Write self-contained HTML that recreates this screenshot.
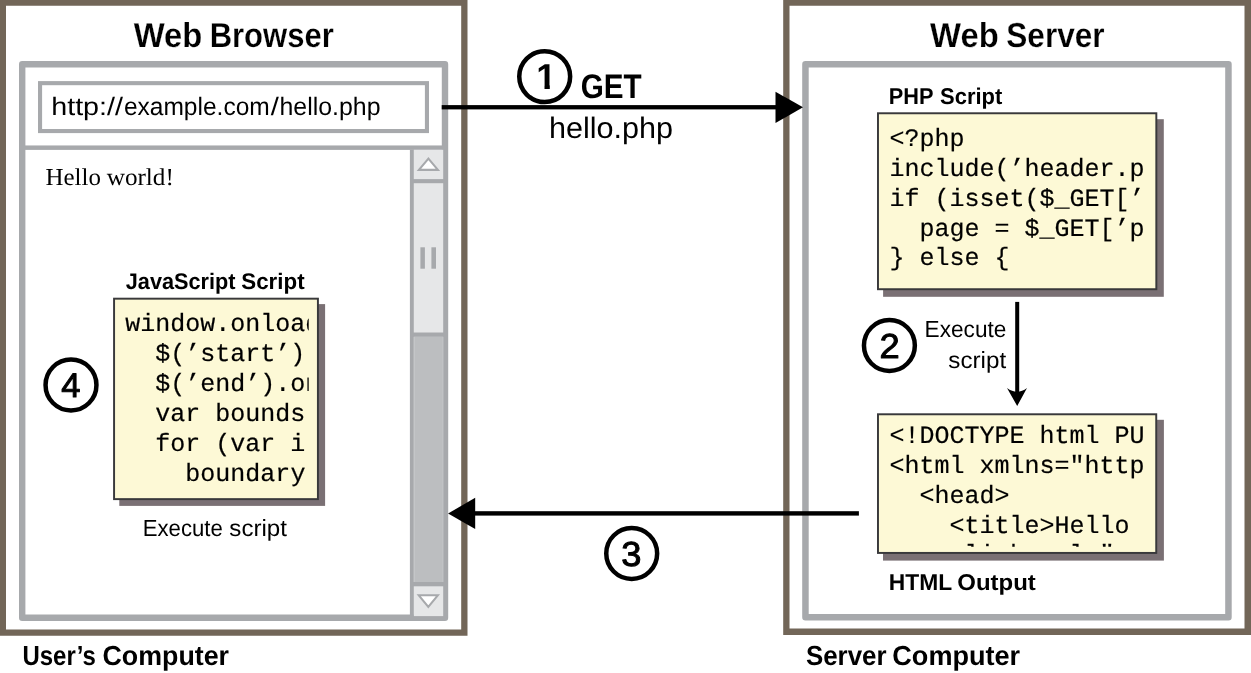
<!DOCTYPE html>
<html lang="en"><head><meta charset="utf-8"><title>Web Browser and Web Server</title>
<style>html,body{margin:0;padding:0;background:#fff;overflow:hidden}svg{display:block;will-change:transform}</style></head>
<body>
<svg width="1251" height="673" viewBox="0 0 1251 673">
<defs>
<clipPath id="c1"><rect x="120" y="300" width="188.7" height="196"/></clipPath>
<clipPath id="c2"><rect x="880" y="115" width="265.2" height="172"/></clipPath>
<clipPath id="c3"><rect x="880" y="416" width="265.2" height="130.7"/></clipPath>
<clipPath id="c4"><path d="M530 55H560V85H549.8V95H544.5V85H530Z"/></clipPath>
<filter id="ga" x="0" y="0" width="1251" height="673" filterUnits="userSpaceOnUse" color-interpolation-filters="sRGB"><feOffset dx="0" dy="0"/></filter>
</defs>
<rect x="0" y="0" width="1251.00" height="673.00" fill="#fff" />
<path fill="#726658" fill-rule="evenodd" d="M0 0H467.5V635.7H0Z M6.0 5.8H461.2V629.5H6.0Z"/>
<path fill="#726658" fill-rule="evenodd" d="M783.2 0H1251V634.9H783.2Z M789.5 5.8H1244.5V628.5H789.5Z"/>
<rect x="22.20" y="64.20" width="422.80" height="553.50" fill="#fff" stroke="#a7a9ac" stroke-width="6.4" stroke-linejoin="round"/>
<rect x="805.45" y="64.25" width="423.00" height="552.90" fill="#fff" stroke="#a7a9ac" stroke-width="6.5" stroke-linejoin="round"/>
<rect x="25" y="145.45" width="418.00" height="4.45" fill="#a7a9ac" />
<rect x="40.05" y="83.15" width="386.90" height="47.90" fill="#fff" stroke="#a7a9ac" stroke-width="4.1" stroke-linejoin="miter"/>
<rect x="409.9" y="149.8" width="4.00" height="466.20" fill="#a7a9ac" />
<rect x="413.9" y="149.8" width="29.30" height="466.30" fill="#e6e7e8" />
<rect x="414.2" y="336.9" width="28.70" height="245.10" fill="#bcbec0" />
<rect x="412" y="179.1" width="32.00" height="4.10" fill="#a7a9ac" />
<rect x="412" y="332.5" width="32.00" height="4.30" fill="#a7a9ac" />
<rect x="412" y="582.0" width="32.00" height="4.30" fill="#a7a9ac" />
<rect x="420.4" y="247.3" width="4.50" height="21.40" fill="#a7a9ac" />
<rect x="431.4" y="247.3" width="4.60" height="21.40" fill="#a7a9ac" />
<path d="M428.4 158.6L418.9 169.9H437.9Z" fill="#fff" stroke="#a7a9ac" stroke-width="2.1" stroke-linejoin="miter"/>
<path d="M428.3 606.8L418.8 595.3H437.8Z" fill="#fff" stroke="#a7a9ac" stroke-width="2.1" stroke-linejoin="miter"/>
<rect x="119.3" y="304.1" width="205.80" height="201.80" fill="#7a7074" />
<rect x="114.07" y="298.68" width="203.85" height="200.45" fill="#fdf9d6" stroke="#39393b" stroke-width="1.95" stroke-linejoin="miter"/>
<rect x="883.1" y="119.2" width="280.70" height="177.60" fill="#7a7074" />
<rect x="877.98" y="113.27" width="278.35" height="175.95" fill="#fdf9d6" stroke="#39393b" stroke-width="1.95" stroke-linejoin="miter"/>
<rect x="883.0" y="419.8" width="280.90" height="140.80" fill="#7a7074" />
<rect x="877.98" y="414.28" width="278.25" height="138.65" fill="#fdf9d6" stroke="#39393b" stroke-width="1.95" stroke-linejoin="miter"/>
<g filter="url(#ga)" text-rendering="geometricPrecision">
<g clip-path="url(#c1)" font-family="Liberation Mono, monospace" font-size="25" fill="#000" stroke="#000" stroke-width="0.2">
<text x="125.35" y="331" style="white-space:pre">window.onload</text>
<text x="155.35" y="361" style="white-space:pre">$(’start’)</text>
<text x="155.35" y="391" style="white-space:pre">$(’end’).on</text>
<text x="155.35" y="421" style="white-space:pre">var bounds</text>
<text x="155.35" y="451" style="white-space:pre">for (var i</text>
<text x="185.36" y="481" style="white-space:pre">boundary</text>
</g>
<g clip-path="url(#c2)" font-family="Liberation Mono, monospace" font-size="25" fill="#000" stroke="#000" stroke-width="0.2">
<text x="889.50" y="146" style="white-space:pre">&lt;?php</text>
<text x="889.50" y="176" style="white-space:pre">include(’header.p</text>
<text x="889.50" y="206" style="white-space:pre">if (isset($_GET[’</text>
<text x="919.50" y="236" style="white-space:pre">page = $_GET[’p</text>
<text x="889.50" y="265" style="white-space:pre">} else {</text>
</g>
<g clip-path="url(#c3)" font-family="Liberation Mono, monospace" font-size="25" fill="#000" stroke="#000" stroke-width="0.2">
<text x="889.50" y="443" style="white-space:pre">&lt;!DOCTYPE html PU</text>
<text x="889.50" y="473" style="white-space:pre">&lt;html xmlns=&quot;http</text>
<text x="919.50" y="503" style="white-space:pre">&lt;head&gt;</text>
<text x="949.51" y="533" style="white-space:pre">&lt;title&gt;Hello</text>
<text x="949.51" y="562" style="white-space:pre">&lt;link rel=&quot;</text>
</g>
<rect x="441.7" y="105.1" width="335.30" height="4.30" fill="#000" />
<path d="M775.5 91.7L803 107.3L775.5 123Z" fill="#000"/>
<rect x="474" y="511.2" width="384.90" height="4.40" fill="#000" />
<path d="M475.2 497.8L448.1 513.4L475.2 529.1Z" fill="#000"/>
<rect x="1015.2" y="301.9" width="4.00" height="91.10" fill="#000" />
<path d="M1017.2 406L1007.0 388.0Q1017.2 395.5 1027.0 388.0Z" fill="#000"/>
<circle cx="544.7" cy="76.6" r="25.45" fill="none" stroke="#000" stroke-width="4.5"/>
<circle cx="889.4" cy="345.5" r="25.45" fill="none" stroke="#000" stroke-width="4.5"/>
<circle cx="631.7" cy="553.5" r="25.45" fill="none" stroke="#000" stroke-width="4.5"/>
<circle cx="71.0" cy="385.0" r="25.45" fill="none" stroke="#000" stroke-width="4.5"/>
<text y="47" font-family="Liberation Sans, sans-serif" font-weight="bold" font-size="34.6" fill="#000" stroke="#fff" stroke-width="0.2"><tspan x="133.76" textLength="68.66" lengthAdjust="spacingAndGlyphs">Web</tspan> <tspan x="209.67" textLength="124.09" lengthAdjust="spacingAndGlyphs">Browser</tspan></text>
<text y="47" font-family="Liberation Sans, sans-serif" font-weight="bold" font-size="34.6" fill="#000" stroke="#fff" stroke-width="0.2"><tspan x="930.06" textLength="68.66" lengthAdjust="spacingAndGlyphs">Web</tspan> <tspan x="1006.27" textLength="98.34" lengthAdjust="spacingAndGlyphs">Server</tspan></text>
<text y="98" font-family="Liberation Sans, sans-serif" font-weight="bold" font-size="34.0" fill="#000"><tspan x="580.70" textLength="60.95" lengthAdjust="spacingAndGlyphs">GET</tspan></text>
<text y="138" font-family="Liberation Sans, sans-serif" font-weight="normal" font-size="29.6" fill="#000"><tspan x="548.93" textLength="124.06" lengthAdjust="spacingAndGlyphs">hello.php</tspan></text>
<text y="115" font-family="Liberation Sans, sans-serif" font-weight="normal" font-size="25.2" fill="#000"><tspan x="51.21" textLength="71.81" lengthAdjust="spacingAndGlyphs">http://</tspan><tspan x="123.90" textLength="145.82" lengthAdjust="spacingAndGlyphs">example.com</tspan><tspan x="270.80" textLength="8.10" lengthAdjust="spacingAndGlyphs">/</tspan><tspan x="279.47" textLength="101.04" lengthAdjust="spacingAndGlyphs">hello.php</tspan></text>
<text y="185" font-family="Liberation Serif, serif" font-weight="normal" font-size="24.3" fill="#000"><tspan x="45.53" textLength="55.45" lengthAdjust="spacingAndGlyphs">Hello</tspan> <tspan x="106.70" textLength="67.15" lengthAdjust="spacingAndGlyphs">world!</tspan></text>
<text y="289" font-family="Liberation Sans, sans-serif" font-weight="bold" font-size="22.6" fill="#000"><tspan x="125.74" textLength="109.85" lengthAdjust="spacingAndGlyphs">JavaScript</tspan> <tspan x="241.26" textLength="63.32" lengthAdjust="spacingAndGlyphs">Script</tspan></text>
<text y="536" font-family="Liberation Sans, sans-serif" font-weight="normal" font-size="23.4" fill="#000"><tspan x="142.72" textLength="80.05" lengthAdjust="spacingAndGlyphs">Execute</tspan> <tspan x="229.36" textLength="57.59" lengthAdjust="spacingAndGlyphs">script</tspan></text>
<text y="665" font-family="Liberation Sans, sans-serif" font-weight="bold" font-size="27.5" fill="#000"><tspan x="22.48" textLength="73.27" lengthAdjust="spacingAndGlyphs">User’s</tspan> <tspan x="102.50" textLength="126.56" lengthAdjust="spacingAndGlyphs">Computer</tspan></text>
<text y="665" font-family="Liberation Sans, sans-serif" font-weight="bold" font-size="27.5" fill="#000"><tspan x="805.98" textLength="80.59" lengthAdjust="spacingAndGlyphs">Server</tspan> <tspan x="892.29" textLength="127.88" lengthAdjust="spacingAndGlyphs">Computer</tspan></text>
<text y="104" font-family="Liberation Sans, sans-serif" font-weight="bold" font-size="22.8" fill="#000"><tspan x="888.78" textLength="44.33" lengthAdjust="spacingAndGlyphs">PHP</tspan> <tspan x="940.10" textLength="62.23" lengthAdjust="spacingAndGlyphs">Script</tspan></text>
<text y="590" font-family="Liberation Sans, sans-serif" font-weight="bold" font-size="22.8" fill="#000"><tspan x="888.81" textLength="62.98" lengthAdjust="spacingAndGlyphs">HTML</tspan> <tspan x="957.25" textLength="78.60" lengthAdjust="spacingAndGlyphs">Output</tspan></text>
<text y="337" font-family="Liberation Sans, sans-serif" font-weight="normal" font-size="23.4" fill="#000"><tspan x="924.59" textLength="81.81" lengthAdjust="spacingAndGlyphs">Execute</tspan></text>
<text y="368" font-family="Liberation Sans, sans-serif" font-weight="normal" font-size="23.4" fill="#000"><tspan x="948.35" textLength="57.79" lengthAdjust="spacingAndGlyphs">script</tspan></text>
<text y="358" font-family="Liberation Sans, sans-serif" font-weight="normal" font-size="34.6" fill="#000" stroke="#000" stroke-width="1.0" stroke-linejoin="round"><tspan x="879.59" textLength="20.21" lengthAdjust="spacingAndGlyphs">2</tspan></text>
<text y="566" font-family="Liberation Sans, sans-serif" font-weight="normal" font-size="34.6" fill="#000" stroke="#000" stroke-width="1.0" stroke-linejoin="round"><tspan x="621.38" textLength="20.15" lengthAdjust="spacingAndGlyphs">3</tspan></text>
<text y="397" font-family="Liberation Sans, sans-serif" font-weight="normal" font-size="34.2" fill="#000" stroke="#000" stroke-width="1.0" stroke-linejoin="round"><tspan x="61.25" textLength="19.17" lengthAdjust="spacingAndGlyphs">4</tspan></text>
<text clip-path="url(#c4)" y="89" font-family="Liberation Sans, sans-serif" font-weight="bold" font-size="36" fill="#000"><tspan x="536.35" textLength="19.88" lengthAdjust="spacingAndGlyphs">1</tspan></text>
</g>
</svg>
</body></html>
